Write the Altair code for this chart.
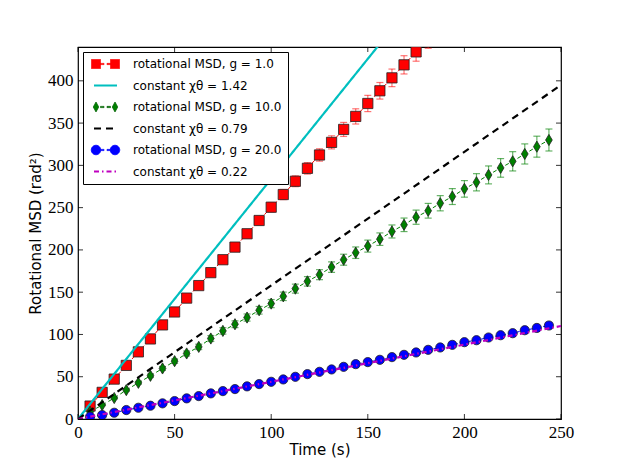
import altair as alt
import pandas as pd

# ---------------- data ----------------
times = [6.25, 12.5, 18.75, 25.0, 31.25, 37.5, 43.75, 50.0, 56.25, 62.5,
         68.75, 75.0, 81.25, 87.5, 93.75, 100.0, 106.25, 112.5, 118.75, 125.0,
         131.25, 137.5, 143.75, 150.0, 156.25, 162.5, 168.75, 175.0, 181.25, 187.5,
         193.75, 200.0, 206.25, 212.5, 218.75, 225.0, 231.25, 237.5, 243.75]

red_msd = [15.3, 31.5, 47.2, 63.4, 79.4, 94.7, 111.3, 126.6, 143.0, 157.8,
           173.1, 188.4, 203.3, 219.1, 234.8, 250.5, 265.5, 281.2, 296.5, 312.3,
           327.2, 342.5, 357.9, 373.2, 388.2, 403.5, 418.9, 434.2, 449.5]
red_err = [0.8, 1.2, 1.6, 2.0, 2.3, 2.6, 3.0, 3.3, 3.6, 3.9,
           4.2, 4.5, 4.8, 5.0, 5.2, 5.6, 6.0, 6.4, 6.8, 7.3,
           7.8, 8.3, 9.0, 9.6, 9.8, 10.4, 10.8, 11.0, 11.0]

green_msd = [8.6, 16.5, 24.8, 34.2, 42.8, 51.1, 59.8, 68.4, 77.5, 85.3,
             95.2, 104.2, 112.1, 120.0, 128.6, 136.5, 145.1, 154.2, 162.8, 170.7,
             179.7, 188.4, 196.7, 204.5, 212.7, 221.8, 229.7, 238.7, 246.3, 255.2,
             263.1, 272.2, 280.0, 288.7, 297.0, 304.8, 313.5, 322.1, 330.0]
green_err = [0.5, 0.8, 1.1, 1.4, 1.7, 2.0, 2.3, 2.6, 2.9, 3.2,
             3.5, 3.8, 4.0, 4.2, 4.5, 4.8, 5.0, 5.3, 5.6, 5.9,
             6.2, 6.5, 6.8, 7.1, 7.4, 7.7, 8.0, 8.4, 8.7, 9.0,
             9.4, 9.8, 10.2, 10.6, 11.0, 11.4, 11.9, 12.4, 13.0]

blue_msd = [2.7, 4.7, 7.4, 10.6, 13.3, 15.7, 18.5, 21.2, 24.4, 27.1,
            30.3, 33.0, 35.4, 38.6, 41.3, 44.0, 46.8, 49.9, 53.1, 55.8,
            58.6, 61.7, 64.9, 67.3, 70.0, 73.2, 75.9, 78.7, 81.8, 84.6,
            87.7, 90.9, 93.2, 96.4, 99.1, 101.5, 105.0, 107.7, 110.6]
blue_err = [0.1, 0.2, 0.3, 0.4, 0.5, 0.6, 0.7, 0.8, 0.9, 1.0,
            1.1, 1.2, 1.3, 1.4, 1.5, 1.6, 1.7, 1.8, 1.9, 2.0,
            2.1, 2.2, 2.3, 2.4, 2.5, 2.6, 2.7, 2.8, 2.9, 3.0,
            3.1, 3.2, 3.3, 3.4, 3.5, 3.6, 3.7, 3.8, 4.0]

series_names = ["rotational MSD, g = 1.0", "constant χθ = 1.42",
                "rotational MSD, g = 10.0", "constant χθ = 0.79",
                "rotational MSD, g = 20.0", "constant χθ = 0.22"]
chi_values = [1.42, 0.79, 0.22]
line_times = [0.0, 250.0]

x_ticks = [0, 50, 100, 150, 200, 250]
y_ticks = [0, 50, 100, 150, 200, 250, 300, 350, 400]

# ---------------- tables ----------------
def msd_table(name, vals, errs):
    n = len(vals)
    return pd.DataFrame({"series": name, "t": times[:n], "v": vals,
                         "lo": [v - e for v, e in zip(vals, errs)],
                         "hi": [v + e for v, e in zip(vals, errs)]})

# marker shapes (unit-box SVG paths)
SQUARE = "square"
THIN_DIAMOND = "M0,-1L0.6,0L0,1L-0.6,0Z"
CIRCLE = "circle"

msd_sets = [
    (msd_table(series_names[0], red_msd, red_err), "#ff0000", 0.55, SQUARE, 105),
    (msd_table(series_names[2], green_msd, green_err), "#008000", 0.6, THIN_DIAMOND, 125),
    (msd_table(series_names[4], blue_msd, blue_err), "#0000ff", 0.35, CIRCLE, 85),
]
const_names = [series_names[1], series_names[3], series_names[5]]
const_df = pd.DataFrame([{"series": nm, "t": tt, "v": 2 * chi * tt}
                         for nm, chi in zip(const_names, chi_values) for tt in line_times])

# ---------------- legend symbols: "marker - - marker" and line samples ----------------
DASHES = "M-1,-0.12L-0.3,-0.12L-0.3,0.12L-1,0.12ZM0.3,-0.12L1,-0.12L1,0.12L0.3,0.12Z"
LEG_SQUARE = "M-2.8,-0.9L-1,-0.9L-1,0.9L-2.8,0.9ZM1,-0.9L2.8,-0.9L2.8,0.9L1,0.9Z" + DASHES
LEG_DIAMOND = "M-1.9,-1L-1.35,0L-1.9,1L-2.45,0ZM1.9,-1L2.45,0L1.9,1L1.35,0Z" + DASHES
LEG_CIRCLE = ("M-2.85,0A0.95,0.95 0 1,0 -0.95,0A0.95,0.95 0 1,0 -2.85,0Z"
              "M0.95,0A0.95,0.95 0 1,0 2.85,0A0.95,0.95 0 1,0 0.95,0Z") + DASHES
LEG_LINE = "M-2.3,0L2.3,0"

dom = series_names
fill_scale = alt.Scale(domain=dom, range=["#ff0000", "transparent", "#008000", "transparent", "#0000ff", "transparent"])
stroke_scale = alt.Scale(domain=dom, range=["#ff0000", "#00bfbf", "#006000", "#000000", "#0000ff", "#bf00bf"])
shape_scale = alt.Scale(domain=dom, range=[LEG_SQUARE, LEG_LINE, LEG_DIAMOND, LEG_LINE, LEG_CIRCLE, LEG_LINE])
size_scale = alt.Scale(type="ordinal", domain=dom, range=[100, 100, 100, 100, 100, 100])
sw_scale = alt.Scale(type="ordinal", domain=dom, range=[0.8, 2.2, 0.8, 2.2, 0.8, 2.2])
dash_scale = alt.Scale(domain=dom, range=[[1, 0], [1, 0], [1, 0], [7, 5], [1, 0], [5, 3, 1.5, 3]])

leg = alt.Legend(title=None)

W, H = 483, 372
LABEL_FONT = "Liberation Serif"
x_axis = alt.Axis(values=x_ticks, title="Time (s)", ticks=False, domain=False, grid=False,
                  labelFont=LABEL_FONT, labelFontSize=17, labelPadding=5, labelColor="black",
                  labelFlush=False, labelOverlap=False,
                  titleFont="DejaVu Sans", titleFontSize=15, titleFontWeight="normal",
                  titlePadding=2, titleColor="black")
y_axis = alt.Axis(values=y_ticks, title="Rotational MSD (rad²)", ticks=False, domain=False, grid=False,
                  labelFont=LABEL_FONT, labelFontSize=17, labelPadding=5, labelColor="black",
                  labelFlush=False, labelOverlap=False,
                  titleFont="DejaVu Sans", titleFontSize=15, titleFontWeight="normal",
                  titlePadding=4, titleColor="black")
xs = alt.Scale(domain=[0, 250], nice=False, zero=False)
ys = alt.Scale(domain=[0, 440], nice=False, zero=False)

def X(f):
    return alt.X(f"{f}:Q", scale=xs, axis=x_axis)

def Y(f):
    return alt.Y(f"{f}:Q", scale=ys, axis=y_axis)

layers = []
for i, (df, col, eop, shp, sz) in enumerate(msd_sets):
    base = alt.Chart(df)
    bars = base.mark_rule(color=col, opacity=eop, strokeWidth=1.2, clip=True).encode(
        x=X("t"), y=Y("lo"), y2="hi:Q")
    caps_lo = base.mark_tick(color=col, opacity=eop, orient="horizontal", size=7, thickness=1.2,
                             clip=True).encode(x=X("t"), y=Y("lo"))
    caps_hi = base.mark_tick(color=col, opacity=eop, orient="horizontal", size=7, thickness=1.2,
                             clip=True).encode(x=X("t"), y=Y("hi"))
    conn = base.mark_line(color=col, strokeDash=[4, 3], strokeWidth=1, clip=True).encode(
        x=X("t"), y=Y("v"))
    pts = base.mark_point(filled=True, opacity=1, clip=True, fill=col, stroke="#222222",
                          strokeWidth=0.8, shape=shp, size=sz).encode(x=X("t"), y=Y("v"))
    layers += [bars, caps_lo, caps_hi, conn, pts]
    cname = const_names[i]
    line = alt.Chart(const_df).transform_filter(alt.datum.series == cname).mark_line(clip=True).encode(
        x=X("t"), y=Y("v"),
        stroke=alt.Stroke("series:N", scale=stroke_scale, legend=leg),
        strokeDash=alt.StrokeDash("series:N", scale=dash_scale, legend=leg),
        strokeWidth=alt.StrokeWidth("series:N", scale=sw_scale, legend=leg),
    )
    layers.append(line)

# legend-only layer (draws no marks; supplies the legend symbols)
legend_layer = alt.Chart(const_df).transform_filter(alt.datum.series == "__none__").mark_point(
    filled=True, opacity=1).encode(
    x=X("t"), y=Y("v"),
    fill=alt.Fill("series:N", scale=fill_scale, legend=leg),
    stroke=alt.Stroke("series:N", scale=stroke_scale, legend=leg),
    shape=alt.Shape("series:N", scale=shape_scale, legend=leg),
    size=alt.Size("series:N", scale=size_scale, legend=leg),
    strokeWidth=alt.StrokeWidth("series:N", scale=sw_scale, legend=leg),
    strokeDash=alt.StrokeDash("series:N", scale=dash_scale, legend=leg),
)
layers.append(legend_layer)

# inward ticks on all four sides
xt_df = pd.DataFrame({"t": x_ticks})
yt_df = pd.DataFrame({"v": y_ticks})
tick_col = "#000000"
layers += [
    alt.Chart(xt_df).mark_rule(color=tick_col, strokeWidth=0.8).encode(x=X("t"), y=alt.value(H), y2=alt.value(H - 5)),
    alt.Chart(xt_df).mark_rule(color=tick_col, strokeWidth=0.8).encode(x=X("t"), y=alt.value(0), y2=alt.value(5)),
    alt.Chart(yt_df).mark_rule(color=tick_col, strokeWidth=0.8).encode(y=Y("v"), x=alt.value(0), x2=alt.value(5)),
    alt.Chart(yt_df).mark_rule(color=tick_col, strokeWidth=0.8).encode(y=Y("v"), x=alt.value(W), x2=alt.value(W - 5)),
]

chart = alt.layer(*layers).properties(
    width=W, height=H,
    autosize=alt.AutoSizeParams(type="none"),
    padding={"left": 70, "top": 39, "right": 54, "bottom": 40},
    background="white",
).configure_view(
    stroke="black", strokeWidth=1.2
).configure_legend(
    orient="top-left", offset=5, padding=6, strokeColor="black", fillColor="white",
    labelFont="DejaVu Sans", labelFontSize=12, labelColor="black", labelOffset=21,
    symbolOffset=10, rowPadding=8, cornerRadius=0, labelLimit=300,
)

chart.save("out.html", embed_options={"renderer": "svg", "actions": False})
